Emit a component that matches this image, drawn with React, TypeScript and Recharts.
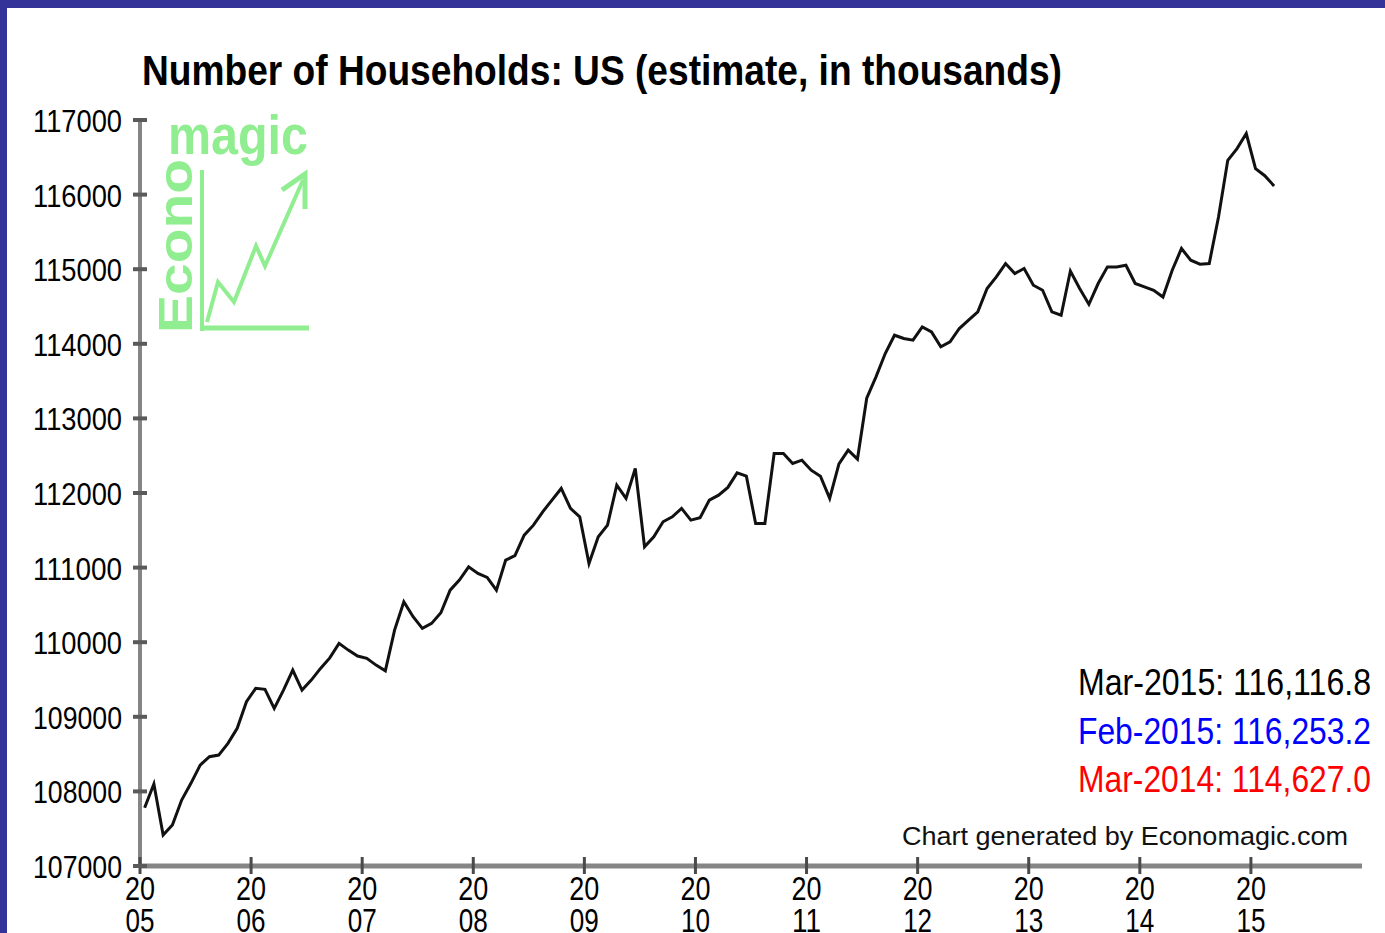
import React from 'react';
import { LineChart, Line, XAxis, YAxis } from 'recharts';

// monthly estimates, Jan 2005 .. Mar 2015 (thousands)
const households = [
  107780, 108100, 107415, 107550, 107884, 108108, 108353, 108465, 108487, 108644, 108845, 109202,
  109381, 109368, 109113, 109358, 109626, 109358, 109492, 109649, 109790, 109984, 109894, 109814,
  109783, 109693, 109617, 110162, 110542, 110341, 110185, 110252, 110394, 110698, 110832, 111011,
  110922, 110869, 110698, 111100, 111160, 111435, 111569, 111748, 111904, 112061, 111793, 111681,
  111056, 111413, 111569, 112105, 111927, 112329, 111279, 111413, 111614, 111681, 111793, 111636,
  111670, 111904, 111971, 112075, 112270, 112226, 111592, 111592, 112530, 112530, 112396, 112440,
  112306, 112226, 111927, 112390, 112574, 112455, 113270, 113557, 113870, 114115, 114071, 114048,
  114227, 114160, 113959, 114026, 114205, 114316, 114428, 114741, 114897, 115076, 114942, 115009,
  114785, 114718, 114428, 114383, 114975, 114741, 114530, 114808, 115031, 115031, 115053, 114808,
  114763, 114718, 114627.0, 114986, 115277, 115120, 115067, 115076, 115700, 116460, 116617, 116818,
  116349, 116253.2, 116116.8,
];

const yearLabels = ['2005', '2006', '2007', '2008', '2009', '2010', '2011', '2012', '2013', '2014', '2015'];
const yearTicks = [0, 12, 24, 36, 48, 60, 72, 84, 96, 108, 120];
const yTicks = [107000, 108000, 109000, 110000, 111000, 112000, 113000, 114000, 115000, 116000, 117000];

const latestLabels = [
  { text: 'Mar-2015: 116,116.8', color: '#000000' },
  { text: 'Feb-2015: 116,253.2', color: '#0000ff' },
  { text: 'Mar-2014: 114,627.0', color: '#ff0000' },
];

// plotted at mid-month
const data = households.map((v, i) => ({ t: i + 0.5, v }));

const FONT = '"Liberation Sans", Arial, sans-serif';
const LOGO = '#90ee90';

const YTick = (props: any) => {
  const { x, y, payload } = props;
  return (
    <g>
      <line x1={x - 7} x2={x + 7} y1={y} y2={y} stroke="#5a5a5a" strokeWidth={4} />
      <text
        x={x - 18}
        y={y + 12}
        textAnchor="end"
        fontFamily={FONT}
        fontSize={32}
        fill="#000"
        textLength={89}
        lengthAdjust="spacingAndGlyphs"
      >
        {payload.value}
      </text>
    </g>
  );
};

const XTick = (props: any) => {
  const { x, y, payload } = props;
  const label = yearLabels[yearTicks.indexOf(payload.value)] || '';
  return (
    <g>
      <line x1={x} x2={x} y1={y - 9} y2={y + 8} stroke="#4a4a4a" strokeWidth={3} />
      <text x={x} y={y + 34} textAnchor="middle" fontFamily={FONT} fontSize={33} fill="#000"
        textLength={30} lengthAdjust="spacingAndGlyphs">
        {label.slice(0, 2)}
      </text>
      <text x={x} y={y + 66} textAnchor="middle" fontFamily={FONT} fontSize={33} fill="#000"
        textLength={29} lengthAdjust="spacingAndGlyphs">
        {label.slice(2)}
      </text>
    </g>
  );
};

export default function App() {
  return (
    <div style={{ position: 'absolute', left: 0, top: 0, width: 1385, height: 933, background: '#333399', overflow: 'hidden' }}>
      <div style={{ position: 'absolute', left: 7, top: 8, width: 1378, height: 925, background: '#ffffff' }} />
      <div style={{ position: 'absolute', left: 0, top: 0 }}>
        <LineChart width={1385} height={933} data={data} margin={{ top: 120, right: 23, bottom: 0, left: 0 }}>
          <XAxis
            dataKey="t"
            type="number"
            domain={[0, 132]}
            ticks={yearTicks}
            interval={0}
            height={67}
            tickSize={0}
            tickMargin={0}
            tickLine={false}
            axisLine={{ stroke: '#858585', strokeWidth: 5 }}
            tick={<XTick />}
          />
          <YAxis
            type="number"
            domain={[107000, 117000]}
            ticks={yTicks}
            interval={0}
            width={140}
            tickSize={0}
            tickMargin={0}
            tickLine={false}
            axisLine={{ stroke: '#858585', strokeWidth: 4 }}
            tick={<YTick />}
          />
          <Line
            type="linear"
            dataKey="v"
            stroke="#111111"
            strokeWidth={3}
            dot={false}
            isAnimationActive={false}
          />
        </LineChart>
      </div>
      <svg width={1385} height={933} style={{ position: 'absolute', left: 0, top: 0, pointerEvents: 'none' }}>
        <text x={142} y={85} fontFamily={FONT} fontWeight="bold" fontSize={42} fill="#000"
          textLength={920} lengthAdjust="spacingAndGlyphs">
          Number of Households: US (estimate, in thousands)
        </text>

        {/* Economagic logo */}
        <text x={168} y={154} fontFamily={FONT} fontWeight="bold" fontSize={56} fill={LOGO}
          textLength={140} lengthAdjust="spacingAndGlyphs">
          magic
        </text>
        <text transform="translate(192,333) rotate(-90)" fontFamily={FONT} fontWeight="bold" fontSize={48}
          fill={LOGO} textLength={174} lengthAdjust="spacingAndGlyphs">
          Econo
        </text>
        <line x1={202} y1={170} x2={202} y2={331} stroke={LOGO} strokeWidth={4} />
        <line x1={200} y1={328} x2={309} y2={328} stroke={LOGO} strokeWidth={5} />
        <polyline points="207,322 218,282 234,302 256,246 265,266 303,180" fill="none" stroke={LOGO} strokeWidth={4} />
        <polyline points="282,190 305,174 305,209" fill="none" stroke={LOGO} strokeWidth={5} />

        {latestLabels.map((l, i) => (
          <text key={l.text} x={1371} y={695 + i * 48.5} textAnchor="end" fontFamily={FONT} fontSize={37}
            fill={l.color} textLength={293} lengthAdjust="spacingAndGlyphs">
            {l.text}
          </text>
        ))}
        <text x={902} y={845} fontFamily={FONT} fontSize={25} fill="#111"
          textLength={446} lengthAdjust="spacingAndGlyphs">
          Chart generated by Economagic.com
        </text>
      </svg>
    </div>
  );
}
